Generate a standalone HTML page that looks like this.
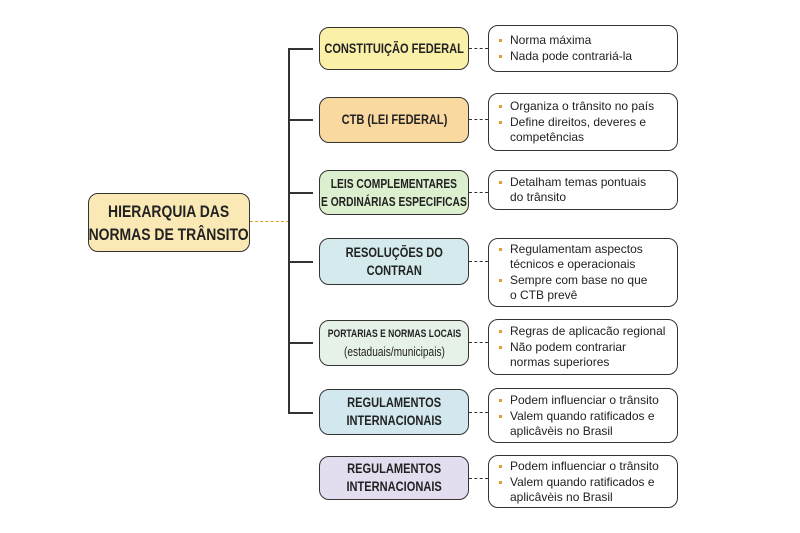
<!DOCTYPE html>
<html><head><meta charset="utf-8"><style>
body{margin:0;width:800px;height:533px;background:#fff;position:relative;overflow:hidden;font-family:"Liberation Sans","DejaVu Sans",sans-serif;color:#222}
.b{position:absolute;box-sizing:border-box;border:1.6px solid #333;border-radius:10px;display:flex;align-items:center;justify-content:center;text-align:center}
.b span.s{display:inline-block;white-space:nowrap;transform:scaleX(0.82);transform-origin:center}
.m{left:319px;width:150px;font-weight:bold;font-size:13.5px;line-height:18px}
.r{left:488px;width:190px;justify-content:flex-start;text-align:left;font-size:12px;line-height:15px;padding-left:10px}
.r ul{margin:0;padding:0;list-style:none}
.r li{position:relative;padding-left:11px;margin:1px 0}
.r li:before{content:"";position:absolute;left:0;top:6px;width:3px;height:3px;background:#e0a030}
.h{position:absolute;height:2px;background:#333}
.d{position:absolute;height:0;border-top:1.6px dashed #333}
</style></head><body>
<div class="b" style="left:88px;top:193px;width:162px;height:59px;background:#fbe9b5;font-weight:bold;font-size:17px;line-height:23px"><span class="s">HIERARQUIA DAS<br>NORMAS DE TRÂNSITO</span></div>
<div class="d" style="left:250px;top:221px;width:39px;border-top-color:#d9a030"></div>
<div style="position:absolute;left:288px;top:48px;width:2px;height:366px;background:#333"></div>

<div class="h" style="left:289px;top:48px;width:24px"></div>
<div class="h" style="left:289px;top:119px;width:24px"></div>
<div class="h" style="left:289px;top:192px;width:24px"></div>
<div class="h" style="left:289px;top:261px;width:24px"></div>
<div class="h" style="left:289px;top:342px;width:24px"></div>
<div class="h" style="left:289px;top:412px;width:24px"></div>

<div class="d" style="left:469px;top:48px;width:19px"></div>
<div class="d" style="left:469px;top:119px;width:19px"></div>
<div class="d" style="left:469px;top:192px;width:19px"></div>
<div class="d" style="left:469px;top:261px;width:19px"></div>
<div class="d" style="left:469px;top:342px;width:19px"></div>
<div class="d" style="left:469px;top:412px;width:19px"></div>
<div class="d" style="left:469px;top:478px;width:19px"></div>

<div class="b m" style="top:27px;height:43px;background:#fbf0a8"><span class="s">CONSTITUIÇÃO FEDERAL</span></div>
<div class="b m" style="top:97px;height:46px;background:#f9d9a0"><span class="s">CTB (LEI FEDERAL)</span></div>
<div class="b m" style="top:170px;height:45px;background:#dcefcf;font-size:12.5px"><span class="s">LEIS COMPLEMENTARES<br>E ORDINÁRIAS ESPECIFICAS</span></div>
<div class="b m" style="top:238px;height:47px;background:#d4eaec"><span class="s">RESOLUÇÕES DO<br>CONTRAN</span></div>
<div class="b m" style="top:320px;height:46px;background:#e6f2e8;font-size:11px"><span class="s" style="transform:scaleX(0.78)">PORTARIAS E NORMAS LOCAIS<br><span style="font-weight:normal;font-size:13px">(estaduais/municipais)</span></span></div>
<div class="b m" style="top:389px;height:46px;background:#d2e8ee"><span class="s">REGULAMENTOS<br>INTERNACIONAIS</span></div>
<div class="b m" style="top:456px;height:44px;background:#e4dcef"><span class="s">REGULAMENTOS<br>INTERNACIONAIS</span></div>

<div class="b r" style="top:25px;height:47px"><ul><li>Norma máxima</li><li>Nada pode contrariá-la</li></ul></div>
<div class="b r" style="top:93px;height:58px"><ul><li>Organiza o trânsito no país</li><li>Define direitos, deveres e<br>competências</li></ul></div>
<div class="b r" style="top:170px;height:40px"><ul><li>Detalham temas pontuais<br>do trânsito</li></ul></div>
<div class="b r" style="top:238px;height:69px"><ul><li>Regulamentam aspectos<br>técnicos e operacionais</li><li>Sempre com base no que<br>o CTB prevê</li></ul></div>
<div class="b r" style="top:319px;height:56px"><ul><li>Regras de aplicacão regional</li><li>Não podem contrariar<br>normas superiores</li></ul></div>
<div class="b r" style="top:388px;height:55px"><ul><li>Podem influenciar o trânsito</li><li>Valem quando ratificados e<br>aplicâvèis no Brasil</li></ul></div>
<div class="b r" style="top:455px;height:53px"><ul><li>Podem influenciar o trânsito</li><li>Valem quando ratificados e<br>aplicâvèis no Brasil</li></ul></div>
</body></html>
